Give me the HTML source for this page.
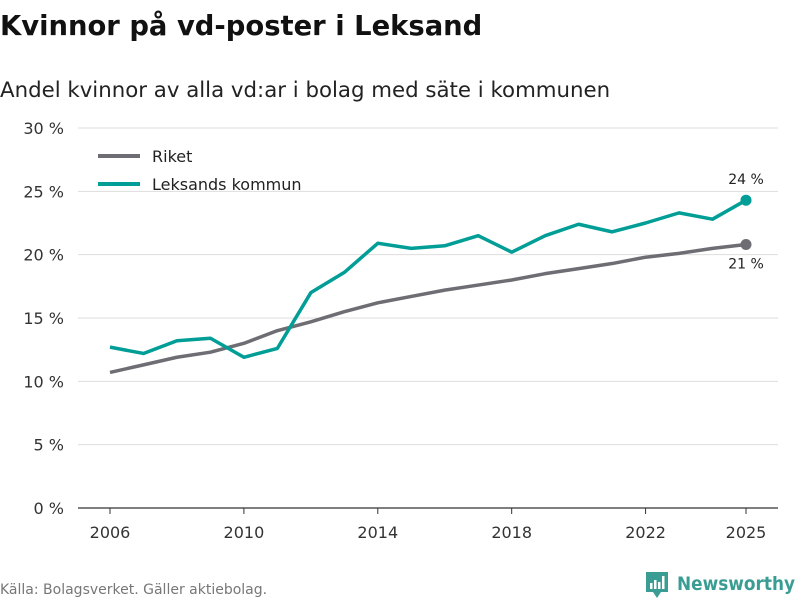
<!DOCTYPE html>
<html><head><meta charset="utf-8"><style>
body{margin:0;width:800px;height:600px;background:#fff;font-family:"DejaVu Sans","Liberation Sans",sans-serif;overflow:hidden}
svg{display:block}
</style></head><body>
<svg width="800" height="600">
<text x="0" y="35" font-size="27.4" font-weight="bold" fill="#111">Kvinnor på vd-poster i Leksand</text>
<text x="0" y="97" font-size="21.3" fill="#222">Andel kvinnor av alla vd:ar i bolag med säte i kommunen</text>
<g id="grid"></g>
<g id="yax"></g>
<g id="xax"></g>
<g id="series"></g>
<g>
<line x1="98" y1="156" x2="140" y2="156" stroke="#6e6d73" stroke-width="4"/>
<text x="152" y="162" font-size="16" fill="#222">Riket</text>
<line x1="98" y1="184" x2="140" y2="184" stroke="#009e96" stroke-width="4"/>
<text x="152" y="190" font-size="16" fill="#222">Leksands kommun</text>
</g>
<text x="0" y="594" font-size="14" fill="#777">Källa: Bolagsverket. Gäller aktiebolag.</text>
<g>
<path d="M646 572h22v20h-7l-4 6-4-6h-7z" fill="#3a9d94"/>
<rect x="650" y="583" width="2.5" height="6" fill="#fff"/><rect x="654" y="580" width="2.5" height="9" fill="#fff"/><rect x="658" y="582" width="2.5" height="7" fill="#fff"/><rect x="662" y="576" width="2.5" height="13" fill="#fff"/>
<text x="677" y="590" font-size="19" font-weight="bold" fill="#3a9d94" textLength="118" lengthAdjust="spacingAndGlyphs">Newsworthy</text>
</g>
</svg>
<script>
const years=[2006,2007,2008,2009,2010,2011,2012,2013,2014,2015,2016,2017,2018,2019,2020,2021,2022,2023,2024,2025];
const riket=[10.7,11.3,11.9,12.3,13.0,14.0,14.7,15.5,16.2,16.7,17.2,17.6,18.0,18.5,18.9,19.3,19.8,20.1,20.5,20.8];
const leksand=[12.7,12.2,13.2,13.4,11.9,12.6,17.0,18.6,20.9,20.5,20.7,21.5,20.2,21.5,22.4,21.8,22.5,23.3,22.8,24.3];
const yTicks=[0,5,10,15,20,25,30];
const xTicks=[2006,2010,2014,2018,2022,2025];
const NS="http://www.w3.org/2000/svg";
const X=v=>110+(v-2006)*(636/19), Y=v=>508-v*(380/30);
function mk(t,a,p){const e=document.createElementNS(NS,t);for(const k in a)e.setAttribute(k,a[k]);p.appendChild(e);return e;}
const grid=document.getElementById('grid'),yax=document.getElementById('yax'),xax=document.getElementById('xax'),ser=document.getElementById('series');
yTicks.forEach(t=>{
 const l=mk('line',{x1:78,x2:778,y1:Y(t),y2:Y(t),stroke:t===0?'#333':'#ddd','stroke-width':t===0?1.2:1},grid);
 
 
 const tx=mk('text',{x:64,y:Y(t)+6,'font-size':16,fill:'#333','text-anchor':'end'},yax);tx.textContent=t+' %';
 
 
});
xTicks.forEach(t=>{
 const l=mk('line',{x1:X(t),x2:X(t),y1:508,y2:514,stroke:'#333'},xax);
 
 
 const tx=mk('text',{x:X(t),y:538,'font-size':16,fill:'#333','text-anchor':'middle'},xax);tx.textContent=t;
 
 
});
function line(vals,col,name,labDy){
 const p=mk('path',{d:vals.map((v,i)=>(i?'L':'M')+X(years[i])+' '+Y(v)).join(''),fill:'none',stroke:col,'stroke-width':3.5,'stroke-linejoin':'round'},ser);
 
 
 const n=vals.length-1;
 const c=mk('circle',{cx:X(years[n]),cy:Y(vals[n]),r:5.5,fill:col},ser);
 
 
 const t=mk('text',{x:X(years[n]),y:Y(vals[n])+labDy,'font-size':14,fill:'#222','text-anchor':'middle'},ser);
 t.textContent=Math.round(vals[n])+' %';
 
 
}
line(riket,'#6e6d73','riket',24);
line(leksand,'#009e96','leksand',-16);
</script>
</body></html>
